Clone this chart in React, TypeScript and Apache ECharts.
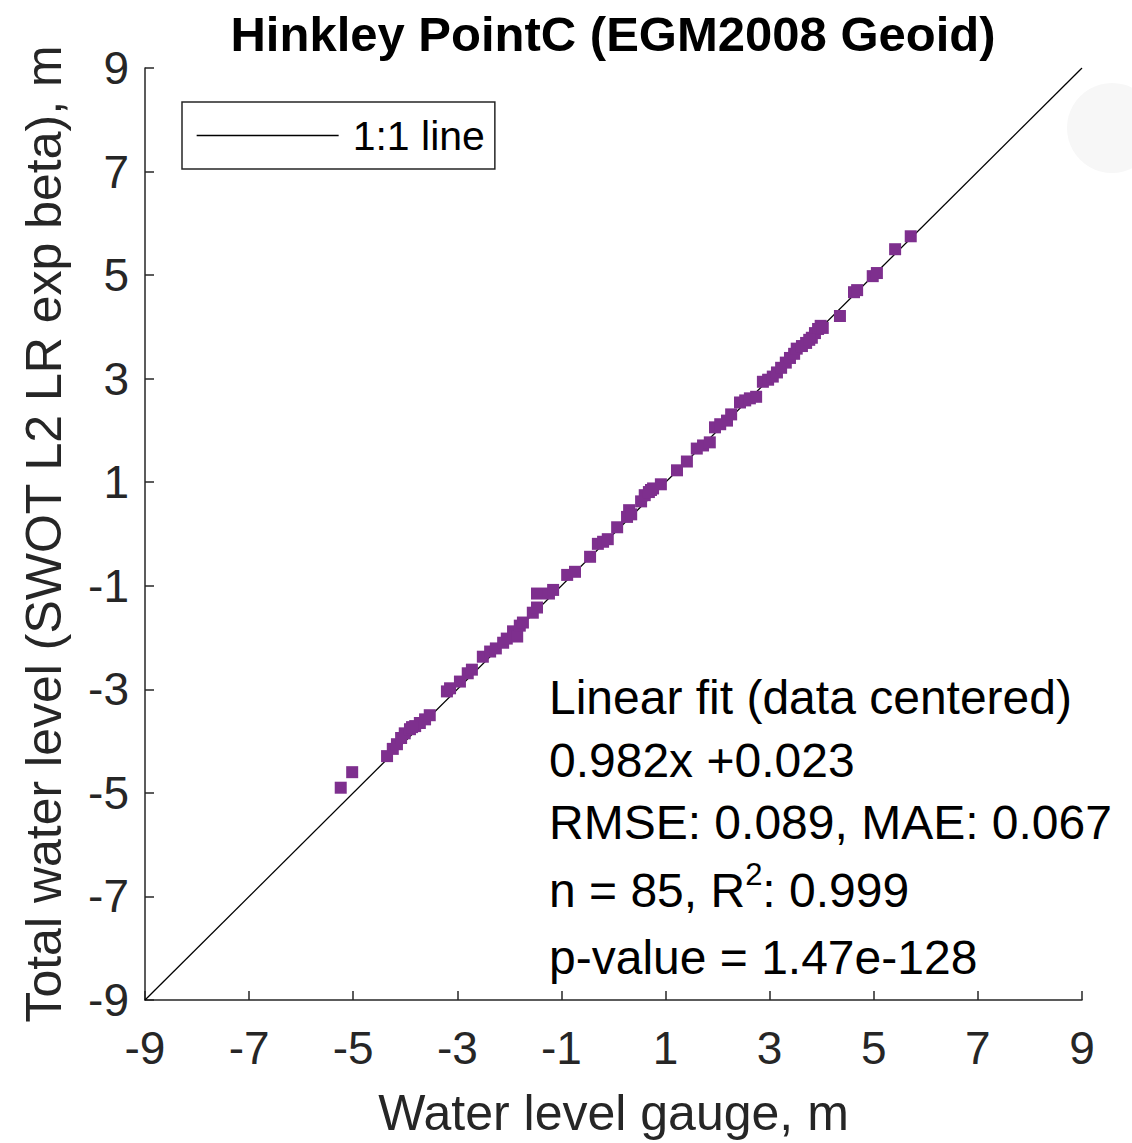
import React, { useEffect, useRef } from "react";
import * as echarts from "echarts";

const titleText = "Hinkley PointC (EGM2008 Geoid)";
const xAxisName = "Water level gauge, m";
const yAxisName = "Total water level (SWOT L2 LR exp beta), m";
const legendLabel = "1:1 line";
const axisMin = -9;
const axisMax = 9;
const axisStep = 2;

const gaugeValues: number[] = [
  -5.24, -5.02, -4.35, -4.24, -4.16, -4.08, -4.01, -3.91, -3.81, -3.72,
  -3.62, -3.53, -3.2, -3.14, -2.95, -2.8, -2.72, -2.51, -2.37, -2.26,
  -2.12, -2.05, -1.93, -1.85, -1.8, -1.74, -1.55, -1.47, -1.47, -1.24,
  -1.16, -0.89, -0.74, -0.45, -0.3, -0.2, -0.11, 0.07, 0.26, 0.3,
  0.34, 0.53, 0.6, 0.68, 0.76, 0.91, 1.22, 1.41, 1.6, 1.72,
  1.85, 1.95, 2.05, 2.18, 2.26, 2.43, 2.53, 2.62, 2.74, 2.87,
  2.97, 3.06, 3.14, 3.22, 3.31, 3.39, 3.47, 3.52, 3.62, 3.7,
  3.81, 3.87, 3.93, 3.98, 4.02, 4.35, 4.62, 4.68, 4.98, 5.06,
  5.41, 5.71, -3.87, 0.72, 3.76,
];
const swotValues: number[] = [
  -4.9, -4.6, -4.29, -4.15, -4.06, -3.94, -3.85, -3.77, -3.71, -3.65,
  -3.58, -3.5, -3.04, -2.98, -2.85, -2.69, -2.62, -2.37, -2.27, -2.21,
  -2.1, -2.02, -1.88, -1.98, -1.77, -1.71, -1.52, -1.42, -1.15, -1.15,
  -1.08, -0.79, -0.73, -0.44, -0.19, -0.15, -0.1, 0.13, 0.33, 0.46,
  0.38, 0.63, 0.75, 0.81, 0.88, 0.96, 1.23, 1.4, 1.65, 1.71,
  1.77, 2.06, 2.12, 2.19, 2.31, 2.54, 2.58, 2.62, 2.65, 2.94,
  2.98, 3.04, 3.12, 3.21, 3.31, 3.4, 3.48, 3.58, 3.63, 3.69,
  3.79, 3.88, 3.96, 4.02, 3.98, 4.21, 4.67, 4.71, 4.98, 5.04,
  5.5, 5.75, -3.73, 0.85, 3.75,
];
const oneToOne: number[][] = [
  [-9, -9],
  [9, 9],
];
const statLines: string[] = [
  "Linear fit (data centered)",
  "0.982x +0.023",
  "RMSE: 0.089, MAE: 0.067",
  "{a|n = 85, R}{s|2}{a|: 0.999}",
  "p-value = 1.47e-128",
];

const FONT = "'Liberation Sans', Arial, Helvetica, sans-serif";
const AXIS_COLOR = "#262626";

export default function App() {
  const ref = useRef<HTMLDivElement>(null);
  useEffect(() => {
    if (!ref.current) return;
    const chart = echarts.init(ref.current, null, { renderer: "svg" });
    const points = gaugeValues.map((g, i) => [g, swotValues[i]]);
    const statY = [697, 760, 822, 890, 957];
    const axisCommon = {
      type: "value" as const,
      min: axisMin,
      max: axisMax,
      interval: axisStep,
      splitLine: { show: false },
      axisLine: { show: true, onZero: false, lineStyle: { color: AXIS_COLOR, width: 1.5 } },
      axisTick: { show: true, inside: true, length: 9, lineStyle: { color: AXIS_COLOR, width: 1.5 } },
      nameTextStyle: { fontSize: 50, color: AXIS_COLOR, fontFamily: FONT },
    };
    chart.setOption({
      animation: false,
      backgroundColor: "#ffffff",
      title: {
        text: titleText,
        left: 613,
        top: 9,
        padding: 0,
        textAlign: "center",
        textStyle: { fontSize: 49, fontWeight: "bold", color: "#000", fontFamily: FONT },
      },
      grid: { left: 145, top: 68, width: 937, height: 936, containLabel: false },
      xAxis: {
        ...axisCommon,
        name: xAxisName,
        nameLocation: "middle",
        nameGap: 88,
        axisLabel: { fontSize: 46, color: AXIS_COLOR, fontFamily: FONT, margin: 25 },
      },
      yAxis: {
        ...axisCommon,
        name: yAxisName,
        nameLocation: "middle",
        nameGap: 76,
        axisLabel: { fontSize: 46, color: AXIS_COLOR, fontFamily: FONT, margin: 16 },
      },
      legend: {
        data: [legendLabel],
        left: 182,
        top: 102,
        padding: [13, 10, 13, 14],
        itemWidth: 142,
        itemHeight: 14,
        borderColor: AXIS_COLOR,
        borderWidth: 1.5,
        borderRadius: 0,
        backgroundColor: "#fff",
        itemStyle: { opacity: 0 },
        lineStyle: { color: "#000", width: 1.3 },
        textStyle: { fontSize: 41, color: "#000", fontFamily: FONT, padding: [0, 0, 0, 9] },
      },
      series: [
        {
          name: legendLabel,
          type: "line",
          data: oneToOne,
          symbol: "none",
          itemStyle: { color: "#000" },
          lineStyle: { color: "#000", width: 1.3 },
          z: 1,
        },
        {
          name: "data",
          type: "scatter",
          data: points,
          symbol: "rect",
          symbolSize: 12,
          itemStyle: { color: "#7e2f8e", opacity: 1 },
          z: 2,
        },
      ],
      graphic: [
        {
          type: "circle",
          shape: { cx: 1112, cy: 128, r: 45 },
          style: { fill: "#f7f7f7" },
          silent: true,
          z: -1,
        },
        ...statLines.map((t, i) => ({
          type: "text",
          x: 549,
          y: statY[i],
          style: {
            text: t,
            fontSize: 48,
            fontFamily: FONT,
            fill: "#000",
            verticalAlign: "middle",
            rich: {
              a: { fontSize: 48, fontFamily: FONT, fill: "#000", lineHeight: 62 },
              s: { fontSize: 31, fontFamily: FONT, fill: "#000", verticalAlign: "top", lineHeight: 62 },
            },
          },
          z: 10,
        })),
      ],
    });
    return () => chart.dispose();
  }, []);
  return (
    <div
      ref={ref}
      style={{ position: "absolute", left: 0, top: 0, width: 1132, height: 1143 }}
    />
  );
}
